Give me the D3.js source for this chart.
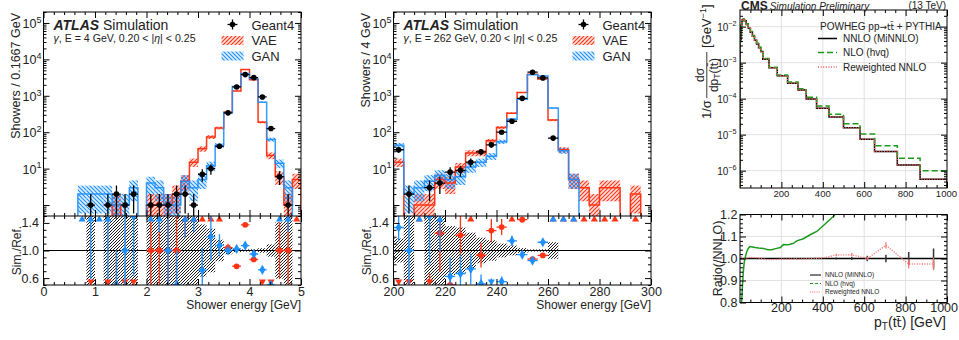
<!DOCTYPE html>
<html>
<head>
<meta charset="utf-8">
<script src="https://cdn.jsdelivr.net/npm/d3@7"></script>
<style>
  body { margin: 0; background: #fff; }
  svg text { font-family: "Liberation Sans", Arial, Helvetica, sans-serif; fill: #222; }
</style>
</head>
<body>
<div id="chart"></div>
<script>
let w = 959,
    h = 340;

let red = "#ff3416",
    blue = "#1e90ff",
    green = "#1c9a1c";

// ---------- ATLAS, gamma E = 4 GeV (bins of 1/6 GeV from 0 to 5)
let lowEdges = d3.range(31).map(i => i / 6);
let g4Low  = [0, 0, 0, 0, 0, 1, 0, 1, 2, 1, 2, 0, 1, 1, 1, 2, 2, 1, 7, 10, 41, 340, 1750, 3825, 3150, 930, 126, 6, 1, 0];
let vaeLow = [0, 0, 0, 0, 0, 0, 0, 0, 1, 0, 0, 0, 1, 1, 1, 2, 4.5, 15, 35, 74, 131, 354, 1350, 5250, 2740, 189, 23, 6, 1, 5];
let ganLow = [0, 0, 0, 0, 2, 2, 2, 2, 1, 1, 3, 0, 4, 3, 1, 1, 4.5, 3, 5, 12, 44, 340, 1790, 4100, 2990, 670, 63, 14, 3, 0];
let lowTicks = [0, 1, 2, 3, 4, 5];

// ---------- ATLAS, gamma E = 262 GeV (bins of 4 GeV from 200 to 300)
let highEdges = d3.range(26).map(i => 200 + 4 * i);
let g4High  = [33, 2, 0, 3, 4, 8, 9, 15, 29, 45, 100, 200, 850, 4450, 3100, 69, 0, 0, 0, 0, 0, 0, 0, 0, 0];
let vaeHigh = [15, 0, 1, 1, 5, 4, 11, 27, 27, 58, 134, 333, 1230, 3900, 2880, 215, 33, 5, 3, 1, 3, 3, 0, 2, 0];
let ganHigh = [44, 2, 3, 4.5, 6.5, 5, 6, 11, 15, 22, 55, 228, 800, 3800, 3470, 460, 31, 5, 0, 0, 0, 0, 0, 0, 0];
let highTicks = [200, 220, 240, 260, 280, 300];

let logLabels = [1e1, 1e2, 1e3, 1e4, 1e5];
let ratioLabels = [0.6, 1.0, 1.4];

// ---------- CMS pT(ttbar)
let cmsEdges = [0, 5, 10, 15, 20, 30, 40, 50, 60, 70, 80, 90, 100, 110, 140, 180, 230, 280, 320, 370, 430, 500, 580, 650, 760, 870, 1000];
let nnlo = [4.5e-3, 1.1e-2, 1.55e-2, 1.6e-2, 1.45e-2, 1.15e-2, 9.0e-3, 7.0e-3, 5.4e-3, 4.2e-3, 3.3e-3, 2.6e-3, 2.05e-3,
            1.25e-3, 7.2e-4, 4.3e-4, 2.7e-4, 1.73e-4, 9.8e-5, 5.4e-5, 3.1e-5, 1.55e-5, 7.4e-6, 3.4e-6, 1.44e-6, 5.8e-7];
let nlo  = [3.8e-3, 1.01e-2, 1.52e-2, 1.63e-2, 1.51e-2, 1.21e-2, 9.45e-3, 7.35e-3, 5.67e-3, 4.41e-3, 3.46e-3, 2.73e-3, 2.15e-3,
            1.3e-3, 7.5e-4, 4.55e-4, 2.88e-4, 1.88e-4, 1.09e-4, 6.3e-5, 3.7e-5, 2.0e-5, 1.05e-5, 4.9e-6, 2.2e-6, 1.0e-6];
let cmsDecades = [1e-6, 1e-5, 1e-4, 1e-3, 1e-2];
let cmsXTicks = [200, 400, 600, 800, 1000];

// ratio panel (CMS)
let nloRatioX = [8, 12, 16, 20, 24, 32, 40, 48, 60, 73, 90, 113, 135, 153, 177, 195, 210, 230, 242, 260, 274, 306, 339, 371, 403, 435, 460];
let nloRatio  = [0.8, 0.88, 0.94, 0.98, 1.0, 1.03, 1.046, 1.054, 1.052, 1.05, 1.048, 1.046, 1.04, 1.04, 1.046, 1.05, 1.063,
                 1.062, 1.065, 1.07, 1.08, 1.09, 1.108, 1.123, 1.15, 1.177, 1.2];
let rewRatioX   = [5, 15, 25, 45, 75, 105, 125, 160, 205, 255, 300, 345, 400, 465, 540, 615, 705, 815, 935];
let rewRatio    = [1.01, 0.995, 1.0, 1.005, 1.004, 1.0, 0.995, 0.995, 0.997, 0.998, 0.998, 1.0, 1.002, 1.016, 1.017, 1.0, 1.06, 0.975, 0.975];
let rewRatioErr = [0, 0, 0, 0, 0, 0, 0, 0, 0, 0, 0, 0, 0, 0.006, 0.008, 0.008, 0.014, 0.02, 0.028];
let nnloErrX = [465, 540, 615, 705, 815, 935];
let nnloErr  = [0.005, 0.007, 0.012, 0.017, 0.03, 0.045];
let ratioTicks = [0.8, 0.9, 1.0, 1.1, 1.2];

let svg = d3.select("#chart")
            .append("svg")
            .attr("width", w)
            .attr("height", h);

let defs = svg.append("defs");

// hatch patterns
function hatch(id, color, dir, bg, sw, s) {
  let p = defs.append("pattern")
              .attr("id", id)
              .attr("patternUnits", "userSpaceOnUse")
              .attr("width", s)
              .attr("height", s);
  if (bg) p.append("rect").attr("width", s).attr("height", s).attr("fill", bg);
  let d = dir > 0
    ? `M${-s / 4},${s / 4}l${s / 2},${-s / 2}M0,${s}l${s},${-s}M${3 * s / 4},${5 * s / 4}l${s / 2},${-s / 2}`
    : `M${-s / 4},${3 * s / 4}l${s / 2},${s / 2}M0,0l${s},${s}M${3 * s / 4},${-s / 4}l${s / 2},${s / 2}`;
  p.append("path").attr("d", d).attr("stroke", color).attr("stroke-width", sw);
}
hatch("hRed", red, 1, "rgba(255,80,50,0.18)", 1.1, 4);
hatch("hBlue", blue, -1, "rgba(30,144,255,0.15)", 1.1, 4);
hatch("hBlack", "#000", 1, "#fff", 0.9, 3);

function stepPath(x, y, edges, vals, floor) {
  let p = "M" + x(edges[0]) + "," + y(floor);
  vals.forEach((v, i) => {
    let yy = y(v > 0 ? v : floor);
    p += "L" + x(edges[i]) + "," + yy + "L" + x(edges[i + 1]) + "," + yy;
  });
  return p + "L" + x(edges[edges.length - 1]) + "," + y(floor);
}

function logMinor(domain) {
  let out = [];
  for (let d = -9; d <= 6; d++) {
    for (let k = 2; k <= 9; k++) {
      let v = k * Math.pow(10, d);
      if (v >= domain[0] && v <= domain[1]) out.push(v);
    }
  }
  return out;
}

// inward ticks with d3 axes
function ticks(g, axisFn, scale, tr, values, size) {
  g.append("g")
   .attr("transform", tr)
   .call(axisFn(scale).tickValues(values).tickSize(-size).tickFormat(""))
   .call(s => s.select(".domain").remove());
}

function supLabel(sel, base, exp, size) {
  sel.append("tspan").text(base);
  sel.append("tspan").attr("dy", -size * 0.42).attr("font-size", size * 0.72).text(exp);
}

// ================= ATLAS panels =================
function atlasPanel(o) {
  let top = 12, mid = 216, bot = 285;
  let floor = 1e-3;

  let x = d3.scaleLinear().domain(o.xDomain).range([o.left, o.right]);
  let y = d3.scaleLog().domain([0.5, 2e5]).range([mid, top]);
  let yr = d3.scaleLinear().domain([0.5, 1.5]).range([bot, mid]);

  defs.append("clipPath").attr("id", o.id + "m").append("rect")
      .attr("x", o.left).attr("y", top).attr("width", o.right - o.left).attr("height", mid - top);
  defs.append("clipPath").attr("id", o.id + "r").append("rect")
      .attr("x", o.left).attr("y", mid).attr("width", o.right - o.left).attr("height", bot - mid);

  let bins = o.edges.slice(0, -1).map((e, i) => ({
    lo: e, hi: o.edges[i + 1], c: (e + o.edges[i + 1]) / 2,
    g4: o.g4[i], vae: o.vae[i], gan: o.gan[i]
  }));

  // ---- main panel
  let gm = svg.append("g").attr("clip-path", `url(#${o.id}m)`);

  [["vae", "hRed"], ["gan", "hBlue"]].forEach(([k, pat]) => {
    gm.append("g")
      .selectAll("rect")
      .data(bins.filter(d => d[k] > 0))
      .join("rect")
      .attr("x", d => x(d.lo))
      .attr("width", d => x(d.hi) - x(d.lo))
      .attr("y", d => y(d[k] + Math.sqrt(d[k])))
      .attr("height", d => y(Math.max(d[k] - Math.sqrt(d[k]), floor)) - y(d[k] + Math.sqrt(d[k])))
      .attr("fill", `url(#${pat})`);
  });

  gm.append("path")
    .attr("d", stepPath(x, y, o.edges, o.vae, floor))
    .attr("fill", "none").attr("stroke", red).attr("stroke-width", 1.5);
  gm.append("path")
    .attr("d", stepPath(x, y, o.edges, o.gan, floor))
    .attr("fill", "none").attr("stroke", blue).attr("stroke-width", 1.5).attr("stroke-opacity", 0.9);

  let gp = gm.append("g")
             .selectAll("g")
             .data(bins.filter(d => d.g4 > 0))
             .join("g");
  gp.append("line")
    .attr("x1", d => x(d.c)).attr("x2", d => x(d.c))
    .attr("y1", d => y(d.g4 + Math.sqrt(d.g4)))
    .attr("y2", d => y(Math.max(d.g4 - Math.sqrt(d.g4), floor)))
    .attr("stroke", "#000").attr("stroke-width", 1.3);
  gp.append("line")
    .attr("x1", d => x(d.lo)).attr("x2", d => x(d.hi))
    .attr("y1", d => y(d.g4)).attr("y2", d => y(d.g4))
    .attr("stroke", "#000").attr("stroke-width", 1.3);
  gp.append("circle")
    .attr("cx", d => x(d.c)).attr("cy", d => y(d.g4)).attr("r", 2.8).attr("fill", "#000");

  // ---- ratio panel
  let gr = svg.append("g").attr("clip-path", `url(#${o.id}r)`);
  gr.append("g")
    .selectAll("rect")
    .data(bins.filter(d => d.g4 > 0))
    .join("rect")
    .attr("x", d => x(d.lo))
    .attr("width", d => x(d.hi) - x(d.lo))
    .attr("y", d => yr(1 + 1 / Math.sqrt(d.g4)))
    .attr("height", d => yr(1 - 1 / Math.sqrt(d.g4)) - yr(1 + 1 / Math.sqrt(d.g4)))
    .attr("fill", "url(#hBlack)");
  gr.append("line")
    .attr("x1", o.left).attr("x2", o.right).attr("y1", yr(1)).attr("y2", yr(1))
    .attr("stroke", "#000").attr("stroke-width", 1.2);

  [["vae", red, d3.symbolCircle, 26], ["gan", blue, d3.symbolDiamond, 30]].forEach(([k, col, sym, size]) => {
    let pts = bins.filter(d => d[k] > 0 || d.g4 > 0).map(d => ({
      d: d,
      r: d.g4 > 0 ? d[k] / d.g4 : Infinity,
      e: d.g4 > 0 ? Math.sqrt(d[k]) / d.g4 : 0
    }));
    let g = gr.append("g");
    g.selectAll(".ev")
     .data(pts.filter(p => isFinite(p.r) && p.e > 0))
     .join("line")
     .attr("x1", p => x(p.d.c)).attr("x2", p => x(p.d.c))
     .attr("y1", p => yr(p.r - p.e)).attr("y2", p => yr(p.r + p.e))
     .attr("stroke", col).attr("stroke-width", 1.3);
    g.selectAll(".eh")
     .data(pts.filter(p => p.r >= 0.5 && p.r <= 1.5))
     .join("line")
     .attr("x1", p => x(p.d.lo)).attr("x2", p => x(p.d.hi))
     .attr("y1", p => yr(p.r)).attr("y2", p => yr(p.r))
     .attr("stroke", col).attr("stroke-width", 1.3);
    g.selectAll(".mk")
     .data(pts)
     .join("path")
     .attr("d", p => {
       if (p.r > 1.5 || p.r < 0.5) return d3.symbol(d3.symbolTriangle, 22)();
       return d3.symbol(sym, size)();
     })
     .attr("transform", p => {
       let yy = p.r > 1.5 ? yr(1.45) : (p.r < 0.5 ? yr(0.55) : yr(p.r));
       let rot = p.r < 0.5 ? " rotate(180)" : "";
       return `translate(${x(p.d.c)},${yy})` + rot;
     })
     .attr("fill", col);
  });

  // ---- frame and ticks
  let ga = svg.append("g");
  ga.append("rect")
    .attr("x", o.left).attr("y", top).attr("width", o.right - o.left).attr("height", bot - top)
    .attr("fill", "none").attr("stroke", "#000").attr("stroke-width", 1);
  ga.append("line")
    .attr("x1", o.left).attr("x2", o.right).attr("y1", mid).attr("y2", mid)
    .attr("stroke", "#000").attr("stroke-width", 1);

  [top, mid].forEach(yy => {
    ticks(ga, d3.axisTop, x, `translate(0,${yy})`, o.xTicks, 6);
    ticks(ga, d3.axisTop, x, `translate(0,${yy})`, o.xMinor, 3);
  });
  [mid, bot].forEach(yy => {
    ticks(ga, d3.axisBottom, x, `translate(0,${yy})`, o.xTicks, 6);
    ticks(ga, d3.axisBottom, x, `translate(0,${yy})`, o.xMinor, 3);
  });
  let decades = [1, 10, 100, 1e3, 1e4, 1e5];
  ticks(ga, d3.axisLeft, y, `translate(${o.left},0)`, decades, 6);
  ticks(ga, d3.axisLeft, y, `translate(${o.left},0)`, logMinor(y.domain()), 3);
  ticks(ga, d3.axisRight, y, `translate(${o.right},0)`, decades, 6);
  ticks(ga, d3.axisRight, y, `translate(${o.right},0)`, logMinor(y.domain()), 3);
  let rMajor = [0.6, 1.0, 1.4], rMinor = [0.5, 0.7, 0.8, 0.9, 1.1, 1.2, 1.3, 1.5];
  ticks(ga, d3.axisLeft, yr, `translate(${o.left},0)`, rMajor, 6);
  ticks(ga, d3.axisLeft, yr, `translate(${o.left},0)`, rMinor, 3);
  ticks(ga, d3.axisRight, yr, `translate(${o.right},0)`, rMajor, 6);
  ticks(ga, d3.axisRight, yr, `translate(${o.right},0)`, rMinor, 3);

  // x labels
  ga.append("g")
    .attr("transform", `translate(0,${bot})`)
    .call(d3.axisBottom(x).tickValues(o.xTicks).tickSize(0).tickPadding(2).tickFormat(d3.format("d")))
    .call(s => s.select(".domain").remove())
    .call(s => s.selectAll("text").attr("font-size", 12.5).attr("font-family", null));

  ga.selectAll(".ylab")
    .data(logLabels)
    .join("text")
    .attr("x", o.left - 2)
    .attr("y", d => y(d) + 5)
    .attr("text-anchor", "end")
    .attr("font-size", 12.5)
    .each(function(d) { supLabel(d3.select(this), "10", Math.round(Math.log10(d)), 12.5); });

  ga.selectAll(".rlab")
    .data(ratioLabels)
    .join("text")
    .attr("x", o.left - 4.5)
    .attr("y", d => yr(d) + 4.5)
    .attr("text-anchor", "end")
    .attr("font-size", 12.5)
    .text(d => d.toFixed(1));

  // axis titles
  ga.append("text")
    .attr("transform", `translate(${o.left - 24},13) rotate(-90)`)
    .attr("text-anchor", "end")
    .attr("font-size", 12.5)
    .text(o.ylabel);
  ga.append("text")
    .attr("transform", `translate(${o.left - 22.5},${(mid + bot) / 2}) rotate(-90)`)
    .attr("text-anchor", "middle")
    .attr("font-size", 12)
    .text("Sim./Ref.");
  ga.append("text")
    .attr("x", o.right).attr("y", 309)
    .attr("text-anchor", "end")
    .attr("font-size", 12)
    .text("Shower energy [GeV]");

  // ATLAS label
  let t = ga.append("text").attr("x", o.left + 10).attr("y", 29.5).attr("font-size", 14);
  t.append("tspan").attr("font-weight", "bold").attr("font-style", "italic").text("ATLAS");
  t.append("tspan").text(" Simulation");
  let s = ga.append("text").attr("x", o.left + 10).attr("y", 42).attr("font-size", 10.6);
  s.append("tspan").attr("font-style", "italic").text("γ");
  s.append("tspan").text(", E = " + o.energy + " GeV, 0.20 < |");
  s.append("tspan").attr("font-style", "italic").text("η");
  s.append("tspan").text("| < 0.25");

  // legend
  let lx = o.legendX;
  let lg = ga.append("g");
  lg.append("line").attr("x1", lx - 5).attr("x2", lx + 5).attr("y1", 24.5).attr("y2", 24.5).attr("stroke", "#000").attr("stroke-width", 1.3);
  lg.append("line").attr("x1", lx).attr("x2", lx).attr("y1", 19.5).attr("y2", 29.5).attr("stroke", "#000").attr("stroke-width", 1.3);
  lg.append("circle").attr("cx", lx).attr("cy", 24.5).attr("r", 2.8).attr("fill", "#000");
  [["hRed", 36], ["hBlue", 51.5]].forEach(([pat, yy]) => {
    lg.append("rect").attr("x", lx - 11).attr("y", yy).attr("width", 22).attr("height", 9).attr("fill", `url(#${pat})`);
  });
  [["Geant4", 29.5], ["VAE", 45], ["GAN", 60.5]].forEach(([name, yy]) => {
    lg.append("text").attr("x", lx + 19).attr("y", yy).attr("font-size", 13).text(name);
  });
}

atlasPanel({
  id: "p1", left: 43.5, right: 301, xDomain: [0, 5],
  edges: lowEdges, g4: g4Low, vae: vaeLow, gan: ganLow,
  xTicks: lowTicks, xMinor: d3.range(0, 5.01, 0.2).filter(v => Math.abs(v - Math.round(v)) > 1e-6),
  ylabel: "Showers / 0.1667 GeV", energy: "4", legendX: 232.5
});

atlasPanel({
  id: "p2", left: 393.5, right: 651, xDomain: [200, 300],
  edges: highEdges, g4: g4High, vae: vaeHigh, gan: ganHigh,
  xTicks: highTicks, xMinor: d3.range(204, 300, 4).filter(v => v % 20 !== 0),
  ylabel: "Showers / 4 GeV", energy: "262", legendX: 583.5
});

// ================= CMS panel =================
let cTop = 10, cBot = 188, rTop = 214.5, rBot = 302.5;
let cx = d3.scaleLinear().domain([0, 1000]).range([740, 947]);
let cy = d3.scaleLog().domain([3.3e-7, 2.9e-2]).range([cBot, cTop]);
let cr = d3.scaleLinear().domain([0.8, 1.2]).range([rBot, rTop]);

defs.append("clipPath").attr("id", "cm").append("rect")
    .attr("x", 740).attr("y", cTop).attr("width", 207).attr("height", cBot - cTop);
defs.append("clipPath").attr("id", "cr").append("rect")
    .attr("x", 740).attr("y", rTop).attr("width", 207).attr("height", rBot - rTop);

let cg = svg.append("g");

// grid
cg.append("g")
  .selectAll("line")
  .data([200, 400, 600, 800])
  .join("line")
  .attr("x1", d => cx(d)).attr("x2", d => cx(d)).attr("y1", cTop).attr("y2", cBot)
  .attr("stroke", "#e2e2e2").attr("stroke-width", 1);
cg.append("g")
  .selectAll("line")
  .data(cmsDecades)
  .join("line")
  .attr("x1", 740).attr("x2", 947).attr("y1", d => cy(d)).attr("y2", d => cy(d))
  .attr("stroke", "#e2e2e2").attr("stroke-width", 1);
cg.append("g")
  .selectAll("line")
  .data([200, 400, 600, 800])
  .join("line")
  .attr("x1", d => cx(d)).attr("x2", d => cx(d)).attr("y1", rTop).attr("y2", rBot)
  .attr("stroke", "#e2e2e2").attr("stroke-width", 1);
cg.append("g")
  .selectAll("line")
  .data([0.9, 1.1])
  .join("line")
  .attr("x1", 740).attr("x2", 947).attr("y1", d => cr(d)).attr("y2", d => cr(d))
  .attr("stroke", "#e2e2e2").attr("stroke-width", 1);

let cm = svg.append("g").attr("clip-path", "url(#cm)");
cm.append("path")
  .attr("d", stepPath(cx, cy, cmsEdges, nnlo, 1e-9))
  .attr("fill", "none").attr("stroke", "#000").attr("stroke-width", 1.5);
cm.append("path")
  .attr("d", stepPath(cx, cy, cmsEdges, nlo, 1e-9))
  .attr("fill", "none").attr("stroke", green).attr("stroke-width", 1.5).attr("stroke-dasharray", "6,3");
// reweighted NNLO lies on top of the NNLO histogram
cm.append("path")
  .attr("d", stepPath(cx, cy, cmsEdges, nnlo, 1e-9))
  .attr("fill", "none").attr("stroke", "#ff5b5b").attr("stroke-width", 1.5).attr("stroke-dasharray", "1,1.6");

// ratio panel
let crg = svg.append("g").attr("clip-path", "url(#cr)");
crg.append("line")
   .attr("x1", 740).attr("x2", 947).attr("y1", cr(1)).attr("y2", cr(1))
   .attr("stroke", "#000").attr("stroke-width", 1.5);
crg.append("g")
   .selectAll("line")
   .data(nnloErrX.map((v, i) => [v, nnloErr[i]]))
   .join("line")
   .attr("x1", d => cx(d[0])).attr("x2", d => cx(d[0]))
   .attr("y1", d => cr(1 - d[1])).attr("y2", d => cr(1 + d[1]))
   .attr("stroke", "#333").attr("stroke-width", 1.5);
crg.append("path")
   .datum(nloRatioX.map((v, i) => [v, nloRatio[i]]))
   .attr("d", d3.line().x(d => cx(d[0])).y(d => cr(d[1])))
   .attr("fill", "none").attr("stroke", green).attr("stroke-width", 1.5);
let rw = rewRatioX.map((v, i) => [v, rewRatio[i], rewRatioErr[i]]);
crg.append("path")
   .datum(rw)
   .attr("d", d3.line().x(d => cx(d[0])).y(d => cr(d[1])))
   .attr("fill", "none").attr("stroke", "#ff6b6b").attr("stroke-width", 1.4).attr("stroke-dasharray", "1,1.5");
crg.append("g")
   .selectAll("line")
   .data(rw.filter(d => d[2] > 0))
   .join("line")
   .attr("x1", d => cx(d[0])).attr("x2", d => cx(d[0]))
   .attr("y1", d => cr(d[1] - d[2])).attr("y2", d => cr(d[1] + d[2]))
   .attr("stroke", "#ff7070").attr("stroke-width", 1.2);

// frames & ticks
let ca = svg.append("g");
[[cTop, cBot], [rTop, rBot]].forEach(([a, b]) => {
  ca.append("rect").attr("x", 740).attr("y", a).attr("width", 207).attr("height", b - a)
    .attr("fill", "none").attr("stroke", "#000").attr("stroke-width", 1);
});
let cxMinor = d3.range(50, 1000, 50).filter(v => v % 200 !== 0);
[[cTop, cBot], [rTop, rBot]].forEach(([a, b]) => {
  ticks(ca, d3.axisBottom, cx, `translate(0,${b})`, cmsXTicks, 6);
  ticks(ca, d3.axisBottom, cx, `translate(0,${b})`, cxMinor, 3);
  ticks(ca, d3.axisTop, cx, `translate(0,${a})`, cmsXTicks, 6);
  ticks(ca, d3.axisTop, cx, `translate(0,${a})`, cxMinor, 3);
});
ticks(ca, d3.axisLeft, cy, "translate(740,0)", cmsDecades, 6);
ticks(ca, d3.axisLeft, cy, "translate(740,0)", logMinor(cy.domain()), 3);
ticks(ca, d3.axisRight, cy, "translate(947,0)", cmsDecades, 6);
ticks(ca, d3.axisRight, cy, "translate(947,0)", logMinor(cy.domain()), 3);
let crMinor = d3.range(0.82, 1.2, 0.02).filter(v => Math.abs(v * 10 - Math.round(v * 10)) > 1e-6);
ticks(ca, d3.axisLeft, cr, "translate(740,0)", ratioTicks, 6);
ticks(ca, d3.axisLeft, cr, "translate(740,0)", crMinor, 3);
ticks(ca, d3.axisRight, cr, "translate(947,0)", ratioTicks, 6);
ticks(ca, d3.axisRight, cr, "translate(947,0)", crMinor, 3);

// labels
ca.selectAll(".cxl")
  .data(cmsXTicks)
  .join("text")
  .attr("x", d => d === 1000 ? 957 : cx(d)).attr("y", 197)
  .attr("text-anchor", d => d === 1000 ? "end" : "middle").attr("font-size", 9.5)
  .text(d => d);
ca.selectAll(".cyl")
  .data(cmsDecades)
  .join("text")
  .attr("x", 736.5).attr("y", d => cy(d) + 4)
  .attr("text-anchor", "end").attr("font-size", 10)
  .each(function(d) { supLabel(d3.select(this), "10", "\u2212" + Math.round(-Math.log10(d)), 10); });
ca.selectAll(".crx")
  .data(cmsXTicks)
  .join("text")
  .attr("x", d => d === 1000 ? 958 : cx(d)).attr("y", 312)
  .attr("text-anchor", d => d === 1000 ? "end" : "middle").attr("font-size", 12.5)
  .text(d => d);
ca.selectAll(".cry")
  .data(ratioTicks)
  .join("text")
  .attr("x", 737.5).attr("y", d => cr(d) + 4.5)
  .attr("text-anchor", "end").attr("font-size", 12.5)
  .text(d => d.toFixed(1));

// header
let hd = ca.append("text").attr("x", 741).attr("y", 9.5);
hd.append("tspan").attr("font-weight", "bold").attr("font-size", 12).text("CMS");
hd.append("tspan").attr("font-style", "italic").attr("font-size", 10).attr("dx", 2).text("Simulation Preliminary");
ca.append("text").attr("x", 946).attr("y", 9).attr("text-anchor", "end").attr("font-size", 10).text("(13 TeV)");

// y title (main)
let yt = ca.append("g").attr("transform", "translate(705,0) rotate(-90)");
yt.append("text").attr("x", -119).attr("y", 5.5).attr("font-size", 13).text("1/σ");
yt.append("text").attr("x", -75).attr("y", -0.8).attr("text-anchor", "middle").attr("font-size", 12).text("dσ");
yt.append("line").attr("x1", -98).attr("x2", -52).attr("y1", 1.8).attr("y2", 1.8).attr("stroke", "#222").attr("stroke-width", 0.9);
let den = yt.append("text").attr("x", -75).attr("y", 12.5).attr("text-anchor", "middle").attr("font-size", 12);
den.append("tspan").text("dp");
den.append("tspan").attr("font-size", 8.5).attr("dy", 2).text("T");
den.append("tspan").attr("dy", -2).text("(t");
den.append("tspan").attr("font-family", "DejaVu Sans").attr("font-size", 11).text("t\u0304");
den.append("tspan").text(")");
let gv = yt.append("text").attr("x", -48).attr("y", 5.5).attr("font-size", 13);
gv.append("tspan").text("[GeV");
gv.append("tspan").attr("font-size", 9).attr("dy", -5).text("\u22121");
gv.append("tspan").attr("dy", 5).text("]");

// ratio titles
ca.append("text")
  .attr("transform", `translate(722,${(rTop + rBot) / 2}) rotate(-90)`)
  .attr("text-anchor", "middle").attr("font-size", 12.5)
  .text("Ratio(/NNLO)");
let xt = ca.append("text").attr("x", 946).attr("y", 327).attr("text-anchor", "end").attr("font-size", 14);
xt.append("tspan").text("p");
xt.append("tspan").attr("font-size", 10).attr("dy", 3).text("T");
xt.append("tspan").attr("dy", -3).text("(t");
xt.append("tspan").attr("font-family", "DejaVu Sans").attr("font-size", 13).text("t\u0304");
xt.append("tspan").text(") [GeV]");

// legends
let cl = ca.append("g");
let lt = cl.append("text").attr("x", 820).attr("y", 29.5).attr("font-size", 10);
lt.append("tspan").text("POWHEG pp");
lt.append("tspan").attr("font-family", "DejaVu Sans").attr("font-size", 9).text("\u2192t");
lt.append("tspan").attr("font-family", "DejaVu Sans").attr("font-size", 9).text("t\u0304");
lt.append("tspan").text(" + PYTHIA");
[["#000", null, 42, "NNLO (MiNNLO)"], [green, "6,3", 56, "NLO (hvq)"], ["#ff5b5b", "1,1.6", 70.5, "Reweighted NNLO"]]
  .forEach(([col, dash, yy, name]) => {
    cl.append("line").attr("x1", 818).attr("x2", 837).attr("y1", yy - 3.5).attr("y2", yy - 3.5)
      .attr("stroke", col).attr("stroke-width", 1.5).attr("stroke-dasharray", dash);
    cl.append("text").attr("x", 843).attr("y", yy).attr("font-size", 10).text(name);
  });
[["#000", null, 277, "NNLO (MiNNLO)"], [green, "3,2", 285.5, "NLO (hvq)"], ["#ff5b5b", "1,1.2", 294, "Reweighted NNLO"]]
  .forEach(([col, dash, yy, name]) => {
    cl.append("line").attr("x1", 810).attr("x2", 821).attr("y1", yy - 2).attr("y2", yy - 2)
      .attr("stroke", col).attr("stroke-width", 1).attr("stroke-dasharray", dash);
    cl.append("text").attr("x", 825).attr("y", yy).attr("font-size", 6.5).text(name);
  });
</script>
</body>
</html>
